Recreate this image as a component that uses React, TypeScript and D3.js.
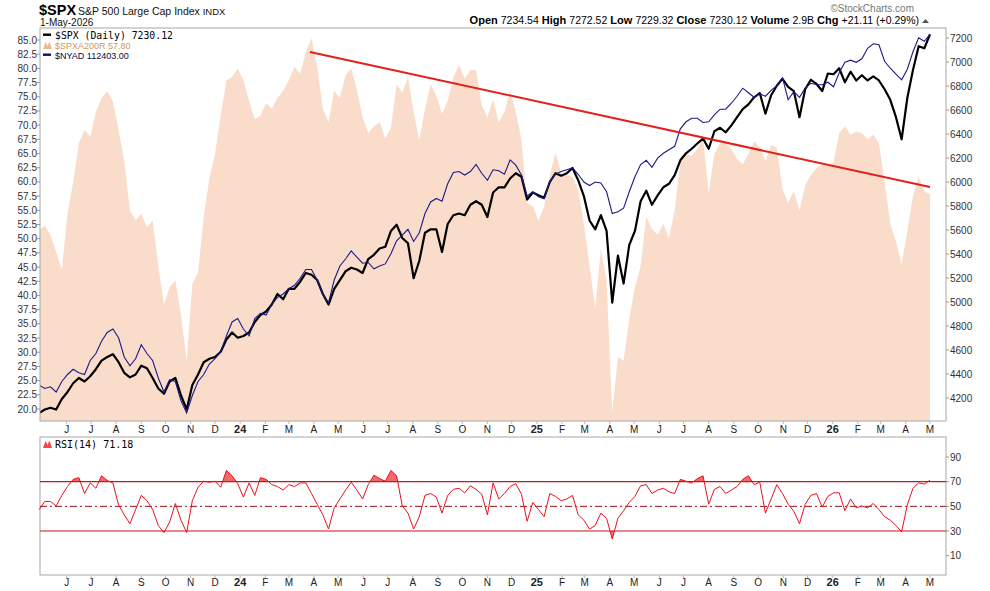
import * as d3 from "d3";
import * as React from "react";
import { useEffect, useRef } from "react";

// weekly closes (Fridays) from 28-Apr-2023 to 1-May-2026
const weekDates = d3.timeFriday.range(new Date(2023, 3, 28), new Date(2026, 4, 2));

const spx = [
  4075, 4104, 4119, 4104, 4192, 4250, 4323, 4367, 4338, 4381, 4440, 4512, 4542, 4565, 4498, 4410, 4372, 4396,
  4469, 4448, 4367, 4279, 4235, 4338, 4367, 4221, 4104, 4308, 4396, 4498, 4527, 4542, 4585, 4688, 4746, 4702,
  4717, 4746, 4833, 4892, 4921, 4979, 5067, 5023, 5110, 5110, 5169, 5242, 5227, 5183, 5067, 4979, 5110, 5183,
  5256, 5285, 5271, 5242, 5358, 5393, 5446, 5460, 5592, 5644, 5533, 5490, 5198, 5344, 5577, 5606, 5606, 5417,
  5650, 5723, 5737, 5723, 5810, 5840, 5810, 5708, 5912, 5956, 5956, 6029, 6073, 6044, 5854, 5912, 5889, 5869,
  6000, 6073, 6052, 6073, 6117, 6015, 5883, 5679, 5606, 5723, 5592, 4994, 5387, 5154, 5475, 5592, 5840,
  5927, 5810, 5889, 5956, 5985, 6058, 6181, 6239, 6277, 6321, 6362, 6277, 6423, 6452, 6414, 6472, 6540, 6607,
  6647, 6706, 6741, 6569, 6723, 6802, 6860, 6793, 6758, 6540, 6773, 6852, 6817, 6758, 6904, 6898, 6948, 6831,
  6919, 6846, 6890, 6846, 6881, 6846, 6773, 6685, 6540, 6356, 6700, 6933, 7132, 7114, 7230.12,
];

const nyad = [
  89030, 88797, 88913, 88563, 89263, 89730, 90080, 89847, 89730, 90663, 91130, 91947, 92530, 92763, 92180, 90897,
  90313, 90780, 91713, 91130, 90663, 89497, 88563, 89380, 89263, 87980, 87163, 88330, 89263, 89730, 90430, 90780,
  91247, 92297, 93230, 93463, 92763, 92297, 93463, 93813, 93697, 94397, 94863, 95097, 95447, 95680, 96147, 96730,
  96730, 96030, 95097, 94513, 96030, 96963,
  97430, 97967, 97547, 97150, 97197, 96777, 96963, 97103, 97780, 98643, 99017, 99413, 98597, 99180, 100463, 101233,
  101467, 101280, 102447, 103193, 103263, 103030, 103263, 103730, 103147, 102680, 103380, 103310, 103077, 104033,
  103683, 103030, 101630, 101910, 101583, 101443, 102610, 103077, 103263, 103380, 103497, 103077, 102563, 102330,
  102563, 102493, 101910, 100463, 100580, 100813, 101910, 102913, 103730,
  104010, 103543, 104150, 104477, 104710, 104943, 106110, 106577, 106810, 106810, 106530, 106577, 107043, 107417,
  107417, 107813, 108280, 108817, 108513, 108210, 108443, 108280, 108677, 108980, 109517, 108047, 108583, 108210,
  108817, 109143, 109050, 109050, 109213, 108910, 109843, 110543, 110683, 110543, 110777, 111477, 111780, 111710,
  110613, 110147, 109750, 109377, 110077, 111243, 112177, 111943, 112403,
];

// % of S&P 500 stocks above their 200-day average
const spxa200r = [
  51.5, 52.3, 50.7, 47.6, 44.6, 54.4, 60.0, 66.8, 69.2, 68.0, 72.3, 74.8, 76.0, 74.2, 69.2, 63.7, 55.0, 53.2,
  54.4, 52.0, 53.2, 45.2, 38.4, 41.5, 42.7, 36.5, 28.5, 42.1, 44.0, 53.8, 60.6, 64.9, 71.7, 77.9, 78.5, 80.0,
  77.9, 74.2, 71.1, 71.7, 73.9, 72.9, 74.8, 76.0, 77.9, 80.3, 79.1, 82.8, 85.3, 80.3, 72.9, 70.5, 76.0, 74.8,
  78.8, 80.0, 76.3, 71.4, 68.6, 69.8, 70.5, 67.7, 69.5, 77.2, 75.7, 78.5, 72.3, 67.4, 72.9, 77.2, 75.1, 72.0,
  74.2, 78.5, 80.6, 78.2, 79.7, 79.7, 73.5, 71.4, 74.5, 70.5, 72.3, 76.0, 72.3, 67.4, 56.3, 55.7, 53.2, 55.7,
  61.2, 65.2, 61.5, 61.2, 60.9, 58.7, 52.6, 45.2, 37.8, 48.3, 42.7, 19.3, 29.2, 28.5, 35.9, 41.5, 45.2,
  53.8, 51.7, 50.7, 52.6, 50.1, 55.0, 63.7, 64.9, 64.6, 65.8, 67.7, 58.1, 64.9, 66.8, 66.8, 65.8, 64.0, 63.1,
  64.9, 67.1, 66.1, 63.7, 66.5, 66.1, 58.7, 56.3, 58.4, 55.0, 59.4, 61.2, 62.4, 63.1, 62.8, 63.4, 68.6, 69.8,
  68.3, 68.9, 68.6, 67.5, 68.3, 66.8, 60.0, 52.6, 49.5, 45.5, 51.4, 57.5, 60.9, 58.4, 57.8,
];

const rsi14 = [
  47.4, 54.0, 54.0, 50.3, 58.9, 66.1, 71.9, 73.3, 60.4, 69.0, 64.7, 74.8, 71.0, 69.0, 51.1, 43.1, 35.9, 47.4,
  58.9, 54.6, 47.4, 34.4, 28.7, 37.3, 52.3, 38.8, 28.7, 54.6, 65.5, 70.4, 69.6, 70.4, 65.5, 79.1, 74.8, 68.4,
  57.5, 69.0, 58.9, 73.3, 71.9, 67.6, 66.1, 63.2, 67.6, 66.1, 69.0, 69.0, 60.4, 51.7, 43.1, 31.6, 48.8, 56.0,
  63.2, 69.6, 63.2, 56.0, 67.6, 75.3, 72.5, 70.4, 79.1, 74.8, 50.3, 44.5, 31.6, 41.6, 58.9, 60.4, 57.5, 44.5,
  58.9, 63.8, 64.7, 60.9, 66.7, 63.8, 59.8, 43.1, 69.0, 56.0, 60.4, 66.1, 68.4, 59.8, 37.9, 53.2, 47.4, 41.6,
  60.4, 58.1, 54.6, 56.0, 58.9, 43.1, 38.8, 31.6, 34.4, 44.5, 40.2, 23.5, 40.2, 46.5, 53.2, 58.1, 66.7,
  67.6, 60.4, 63.2, 64.7, 61.8, 60.4, 71.9, 70.4, 69.0, 72.5, 74.8, 51.7, 63.8, 66.1, 60.4, 63.2, 66.1, 71.9,
  74.8, 67.6, 69.6, 44.5, 56.0, 67.6, 60.4, 51.7, 46.0, 35.9, 51.7, 58.9, 60.4, 49.4, 58.1, 61.0, 61.0, 46.5,
  56.0, 48.8, 50.3, 48.8, 52.3, 47.4, 41.6, 38.8, 34.4, 29.3, 51.1, 64.7, 69.0, 68.1, 71.18,
];

// red down-trend line drawn on the breadth series
const trendDates = [new Date(2024, 2, 27), new Date(2026, 4, 1)];
const trendValues = [82.9, 59.1];

const breadthTicks = d3.range(20, 85.01, 2.5);
const priceTicks = d3.range(4200, 7201, 200);
const rsiTicks = [10, 30, 50, 70, 90];
const monthInitials = ["J", "F", "M", "A", "M", "J", "J", "A", "S", "O", "N", "D"];

const SANS = "'Liberation Sans', Arial, sans-serif";
const MONO = "'DejaVu Sans Mono', monospace";

export default function App() {
  const ref = useRef<SVGSVGElement>(null);

  useEffect(() => {
    const svg = d3.select(ref.current);
    svg.selectAll("*").remove();

    const left = 40,
      right = 946;
    const main = { top: 28, bottom: 421 };
    const lower = { top: 437, bottom: 575 };

    const x = d3
      .scaleTime()
      .domain([new Date(2023, 5, 1), new Date(2026, 4, 1)])
      .range([66.7, 930]);
    const yL = d3.scaleLinear().domain([20, 85]).range([409, 40]);
    const yR = d3.scaleLinear().domain([4200, 7200]).range([398, 38]);
    // NYAD overlay has its own hidden scale
    const yN = d3
      .scaleLinear()
      .domain([112403 - 8 * 3000, 112403])
      .range([yR(4230), yR(7230)]);
    const yRsi = d3.scaleLinear().domain([30, 70]).range([531, 481.7]);

    const rows = weekDates.map((d, i) => ({
      date: d,
      spx: spx[i],
      nyad: nyad[i],
      br: spxa200r[i],
      rsi: rsi14[i],
    }));

    const defs = svg.append("defs");
    defs
      .append("clipPath")
      .attr("id", "clipMain")
      .append("rect")
      .attr("x", left)
      .attr("y", main.top)
      .attr("width", right - left)
      .attr("height", main.bottom - main.top);
    defs
      .append("clipPath")
      .attr("id", "clipHi")
      .append("rect")
      .attr("x", left)
      .attr("y", lower.top)
      .attr("width", right - left)
      .attr("height", yRsi(70) - lower.top);
    defs
      .append("clipPath")
      .attr("id", "clipLo")
      .append("rect")
      .attr("x", left)
      .attr("y", yRsi(30))
      .attr("width", right - left)
      .attr("height", lower.bottom - yRsi(30));

    svg.append("rect").attr("width", 990).attr("height", 591).attr("fill", "#fff");

    // ---- header
    svg
      .append("text")
      .attr("x", 39)
      .attr("y", 15)
      .attr("font-family", SANS)
      .attr("font-weight", "bold")
      .attr("font-size", 14.5)
      .text("$SPX");
    const title = svg
      .append("text")
      .attr("x", 78)
      .attr("y", 15)
      .attr("font-family", SANS)
      .attr("font-size", 10.5)
      .attr("fill", "#111");
    title.append("tspan").text("S&P 500 Large Cap Index ");
    title.append("tspan").attr("font-size", 9.5).text("INDX");
    svg
      .append("text")
      .attr("x", 40)
      .attr("y", 25.5)
      .attr("font-family", SANS)
      .attr("font-size", 10)
      .attr("fill", "#111")
      .text("1-May-2026");
    svg
      .append("text")
      .attr("x", 914)
      .attr("y", 12)
      .attr("text-anchor", "end")
      .attr("font-family", SANS)
      .attr("font-size", 10)
      .attr("fill", "#777")
      .text("\u00a9StockCharts.com");

    const quote = [
      ["Open", "7234.54"],
      ["High", "7272.52"],
      ["Low", "7229.32"],
      ["Close", "7230.12"],
      ["Volume", "2.9B"],
      ["Chg", "+21.11 (+0.29%)"],
    ];
    const q = svg
      .append("text")
      .attr("x", 919)
      .attr("y", 24)
      .attr("text-anchor", "end")
      .attr("font-family", SANS)
      .attr("font-size", 10.5)
      .attr("fill", "#000");
    quote.forEach(([k, v], i) => {
      q.append("tspan")
        .attr("font-weight", "bold")
        .attr("font-size", 11)
        .text((i ? "  " : "") + k + " ");
      q.append("tspan").text(v);
    });
    svg
      .append("path")
      .attr("d", "M922,23 L925.5,19 L929,23 Z")
      .attr("fill", "#555");

    // ---- main panel
    const gMain = svg.append("g").attr("clip-path", "url(#clipMain)");

    gMain
      .append("path")
      .datum(rows)
      .attr("fill", "#f9ddca")
      .attr(
        "d",
        d3
          .area<any>()
          .x((d) => x(d.date))
          .y0(main.bottom)
          .y1((d) => yL(d.br))
      );

    gMain
      .append("path")
      .datum(rows)
      .attr("fill", "none")
      .attr("stroke", "#000")
      .attr("stroke-width", 2.2)
      .attr("stroke-linejoin", "round")
      .attr(
        "d",
        d3
          .line<any>()
          .x((d) => x(d.date))
          .y((d) => yR(d.spx))
      );

    gMain
      .append("path")
      .datum(rows)
      .attr("fill", "none")
      .attr("stroke", "#1c1a86")
      .attr("stroke-width", 1.1)
      .attr(
        "d",
        d3
          .line<any>()
          .x((d) => x(d.date))
          .y((d) => yN(d.nyad))
      );

    gMain
      .append("line")
      .attr("x1", x(trendDates[0]))
      .attr("y1", yL(trendValues[0]))
      .attr("x2", x(trendDates[1]))
      .attr("y2", yL(trendValues[1]))
      .attr("stroke", "#e3201b")
      .attr("stroke-width", 2);

    // frames
    svg
      .append("rect")
      .attr("x", left)
      .attr("y", main.top)
      .attr("width", right - left)
      .attr("height", main.bottom - main.top)
      .attr("fill", "none")
      .attr("stroke", "#a8a8a8");
    svg
      .append("rect")
      .attr("x", left)
      .attr("y", lower.top)
      .attr("width", right - left)
      .attr("height", lower.bottom - lower.top)
      .attr("fill", "none")
      .attr("stroke", "#a8a8a8");

    // left axis
    const la = svg.append("g");
    la.selectAll("line")
      .data(breadthTicks)
      .enter()
      .append("line")
      .attr("x1", left - 3)
      .attr("x2", left)
      .attr("y1", (d) => yL(d))
      .attr("y2", (d) => yL(d))
      .attr("stroke", "#999");
    la.selectAll("text")
      .data(breadthTicks)
      .enter()
      .append("text")
      .attr("x", left - 3)
      .attr("y", (d) => yL(d) + 3.5)
      .attr("text-anchor", "end")
      .attr("font-family", SANS)
      .attr("font-size", 10)
      .attr("fill", "#333")
      .text((d) => d.toFixed(1));

    // right axis
    const ra = svg.append("g");
    ra.selectAll("line")
      .data(priceTicks)
      .enter()
      .append("line")
      .attr("x1", right)
      .attr("x2", right + 3)
      .attr("y1", (d) => yR(d))
      .attr("y2", (d) => yR(d))
      .attr("stroke", "#999");
    ra.selectAll("text")
      .data(priceTicks)
      .enter()
      .append("text")
      .attr("x", right + 4)
      .attr("y", (d) => yR(d) + 3.5)
      .attr("font-family", SANS)
      .attr("font-size", 10)
      .attr("fill", "#333")
      .text((d) => String(d));

    // legend
    svg.append("rect").attr("x", 43).attr("y", 33.5).attr("width", 8).attr("height", 2.4).attr("fill", "#000");
    svg
      .append("text")
      .attr("x", 55)
      .attr("y", 38.5)
      .attr("font-family", MONO)
      .attr("font-size", 9.8)
      .attr("fill", "#000")
      .text("$SPX (Daily) 7230.12");
    svg
      .append("path")
      .attr("d", "M43,49 L45.5,42 L47.5,46 L49.5,41.5 L52,49 Z")
      .attr("fill", "#efb890");
    svg
      .append("text")
      .attr("x", 55)
      .attr("y", 48.5)
      .attr("font-family", SANS)
      .attr("font-size", 9)
      .attr("fill", "#d09660")
      .text("$SPXA200R 57.80");
    svg.append("rect").attr("x", 43).attr("y", 53.5).attr("width", 8).attr("height", 2.4).attr("fill", "#10105a");
    svg
      .append("text")
      .attr("x", 55)
      .attr("y", 58.5)
      .attr("font-family", SANS)
      .attr("font-size", 9)
      .attr("fill", "#0a0a40")
      .text("$NYAD 112403.00");

    // ---- month labels
    const months = d3.timeMonth.range(new Date(2023, 5, 1), new Date(2026, 4, 2));
    const monthLabel = (d: Date) =>
      d.getMonth() === 0 ? String(d.getFullYear()).slice(2) : monthInitials[d.getMonth()];
    [main.bottom, lower.bottom].forEach((yb, k) => {
      const g = svg.append("g");
      g.selectAll("line")
        .data(months)
        .enter()
        .append("line")
        .attr("x1", (d) => x(d))
        .attr("x2", (d) => x(d))
        .attr("y1", yb)
        .attr("y2", yb + 3)
        .attr("stroke", "#bbb");
      g.selectAll("text")
        .data(months)
        .enter()
        .append("text")
        .attr("x", (d) => x(d))
        .attr("y", k === 0 ? 432.5 : 586)
        .attr("text-anchor", "middle")
        .attr("font-family", SANS)
        .attr("font-size", (d) => (d.getMonth() === 0 ? 11 : 10))
        .attr("font-weight", (d) => (d.getMonth() === 0 ? "bold" : "normal"))
        .attr("fill", "#222")
        .text(monthLabel);
    });

    // ---- RSI panel
    const gRsi = svg.append("g");
    const rsiArea = (base: number) =>
      d3
        .area<any>()
        .x((d) => x(d.date))
        .y0(yRsi(base))
        .y1((d) => yRsi(d.rsi));
    gRsi
      .append("path")
      .datum(rows)
      .attr("clip-path", "url(#clipHi)")
      .attr("fill", "#f26a6a")
      .attr("d", rsiArea(70));
    gRsi
      .append("path")
      .datum(rows)
      .attr("clip-path", "url(#clipLo)")
      .attr("fill", "#f26a6a")
      .attr("d", rsiArea(30));

    [70, 30].forEach((v) => {
      gRsi
        .append("line")
        .attr("x1", left)
        .attr("x2", right)
        .attr("y1", yRsi(v))
        .attr("y2", yRsi(v))
        .attr("stroke", "#d0101a")
        .attr("stroke-width", 1.2);
    });
    gRsi
      .append("line")
      .attr("x1", left)
      .attr("x2", right)
      .attr("y1", yRsi(50))
      .attr("y2", yRsi(50))
      .attr("stroke", "#a01018")
      .attr("stroke-width", 1)
      .attr("stroke-dasharray", "7,3,2,3");

    gRsi
      .append("path")
      .datum(rows)
      .attr("fill", "none")
      .attr("stroke", "#e8121c")
      .attr("stroke-width", 1)
      .attr(
        "d",
        d3
          .line<any>()
          .x((d) => x(d.date))
          .y((d) => yRsi(d.rsi))
      );

    const rr = svg.append("g");
    rr.selectAll("line")
      .data(rsiTicks)
      .enter()
      .append("line")
      .attr("x1", right)
      .attr("x2", right + 3)
      .attr("y1", (d) => yRsi(d))
      .attr("y2", (d) => yRsi(d))
      .attr("stroke", "#999");
    rr.selectAll("text")
      .data(rsiTicks)
      .enter()
      .append("text")
      .attr("x", right + 4)
      .attr("y", (d) => yRsi(d) + 3.5)
      .attr("font-family", SANS)
      .attr("font-size", 10)
      .attr("fill", "#333")
      .text((d) => String(d));

    svg
      .append("path")
      .attr("d", "M43,448 L45.5,441 L47.5,445 L49.5,440.5 L52,448 Z")
      .attr("fill", "#f04848");
    svg
      .append("text")
      .attr("x", 55)
      .attr("y", 448)
      .attr("font-family", MONO)
      .attr("font-size", 10)
      .attr("fill", "#000")
      .text("RSI(14) 71.18");
  }, []);

  return (
    <svg
      ref={ref}
      width={990}
      height={591}
      style={{ position: "absolute", left: 0, top: 0, display: "block" }}
    />
  );
}
